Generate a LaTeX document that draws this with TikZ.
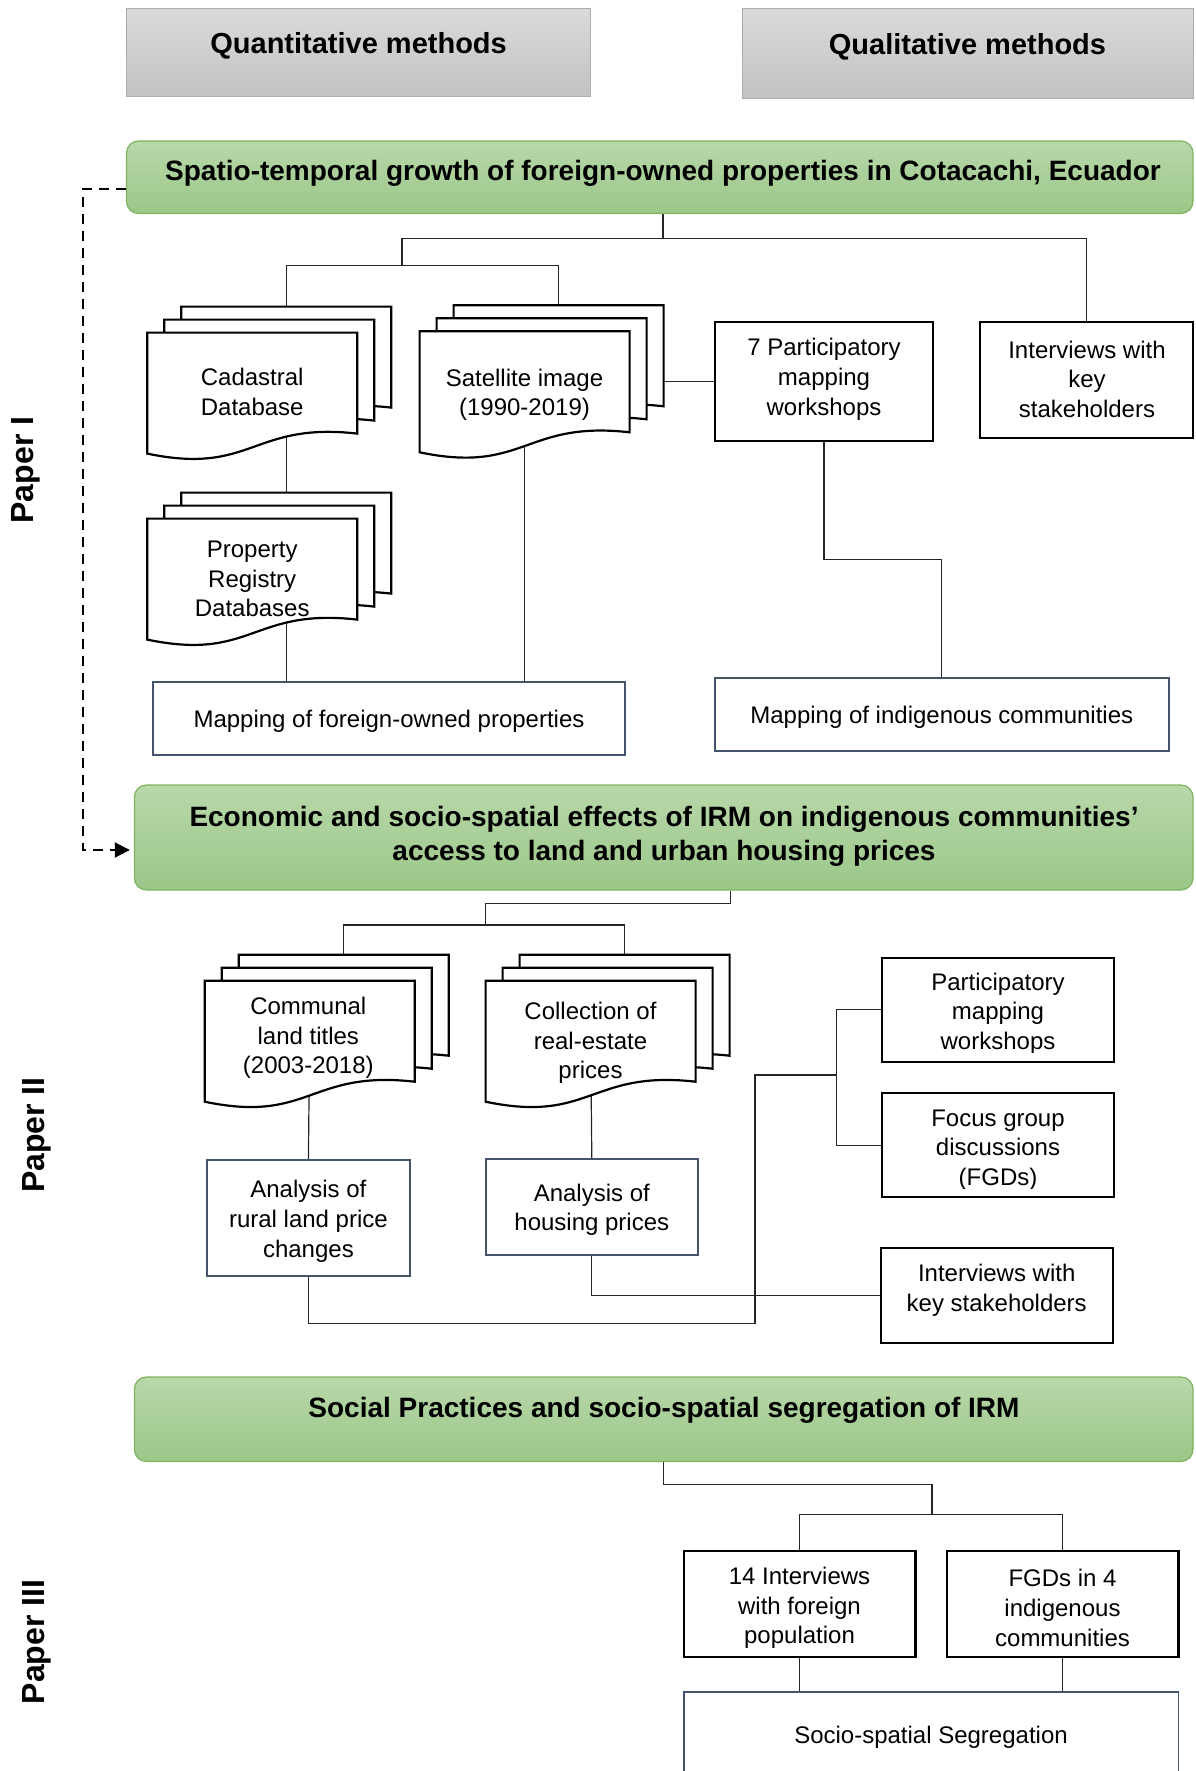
\documentclass[tikz,border=0pt]{standalone}
\usepackage{fontspec}
\setmainfont{Liberation Sans}
\usetikzlibrary{arrows.meta,fit,calc}
\pgfdeclarelayer{lines}
\pgfsetlayers{lines,main}

\definecolor{hdrtop}{HTML}{DADADA}
\definecolor{hdrbot}{HTML}{C2C2C2}
\definecolor{hdredge}{HTML}{ADADAD}
\definecolor{grntop}{HTML}{B8D8AA}
\definecolor{grnbot}{HTML}{9BC788}
\definecolor{grnedge}{HTML}{7FB35F}
\definecolor{slate}{HTML}{44546A}
\definecolor{wirecol}{HTML}{262626}

% a stack of three document sheets; #2,#3 = top-left corner of the front sheet
\newcommand\docstack[3]{%
  \foreach \k in {2,1,0}{%
    \draw[docsheet] ({#2+17*\k},{#3-13*\k}) -- ({#2+17*\k+210},{#3-13*\k})
      -- ({#2+17*\k+210},{#3-13*\k+101})
      .. controls ({#2+17*\k+105},{#3-13*\k+89}) and ({#2+17*\k+105},{#3-13*\k+143}) ..
      ({#2+17*\k},{#3-13*\k+121}) -- cycle;}
  \node[inner sep=0pt, minimum width=105pt, minimum height=50.5pt] (#1) at ({#2+105},{#3+50.5}) {};
  \coordinate (#1-t) at ({#2+34+105},{#3-26});
  \coordinate (#1-e) at ({#2+34+210},{#3-26});
}

\tikzset{
  every node/.style={font=\fontsize{12}{14.8}\selectfont},
  txt/.style={align=center, inner sep=0pt, yshift=-1.1pt},
  colt/.style={align=center, inner sep=0pt, yshift=-1.6pt, font=\fontsize{14.5}{17}\selectfont\bfseries},
  ttl/.style={align=center, inner sep=0pt, yshift=-1.6pt, font=\fontsize{14}{17}\selectfont\bfseries},
  hdr/.style={draw=hdredge, line width=0.5pt, top color=hdrtop, bottom color=hdrbot, inner sep=0pt},
  grn/.style={draw=grnedge, line width=0.6pt, rounded corners=6pt, top color=grntop, bottom color=grnbot, inner sep=0pt},
  blk/.style={draw=black, line width=1.1pt, fill=white, inner sep=0pt},
  res/.style={draw=slate, line width=0.9pt, fill=white, inner sep=0pt},
  docsheet/.style={draw=black, line width=1.1pt, fill=white, line join=miter},
  wire/.style={draw=wirecol, line width=0.6pt},
  lead/.style={draw=black, line width=1pt, dash pattern=on 5pt off 3.5pt, shorten >=2pt,
    -{Triangle[length=7.5pt,width=7.5pt]}},
  paper/.style={rotate=90, inner sep=0pt, font=\fontsize{16}{19}\selectfont\bfseries},
}

\begin{document}
\begin{tikzpicture}[x=0.5pt,y=-0.5pt]
\useasboundingbox (0,0) rectangle (1195,1771);
\clip (0,0) rectangle (1195,1771);

% column headers
\node[hdr, fit={(126.5,9) (590.7,97)}] (quant) {};
\node[colt] at (358.6,43) {Quantitative methods};
\node[hdr, fit={(742,9) (1193.5,99)}] (qual) {};
\node[colt] at (967.5,44) {Qualitative methods};

% paper labels
\node[paper] (p1) at (26,470) {Paper I};
\node[paper] (p2) at (37,1135) {Paper II};
\node[paper] (p3) at (37,1642) {Paper III};

% ---------------- Paper I ----------------
\node[grn, fit={(126.5,141) (1193,213.5)}] (g1) {};
\node[ttl] at (663,170.5) {Spatio-temporal growth of foreign-owned properties in Cotacachi, Ecuador};

\docstack{cad}{147.3}{332.6}
\node[txt] at (252.2,390) {Cadastral\\Database};
\docstack{pr}{147.3}{518.6}
\node[txt] at (252.2,577) {Property\\Registry\\Databases};
\docstack{sat}{419.6}{331.3}
\node[txt] at (524.5,392.7) {Satellite image\\(1990-2019)};

\node[blk, fit={(714.6,322) (933.2,440.8)}] (pm) {};
\node[txt] at (824,377) {7 Participatory\\mapping\\workshops};
\node[blk, fit={(980,322) (1193,438)}] (ik) {};
\node[txt] at (1087,377) {Interviews with\\key\\stakeholders};

\node[res, fit={(153,682) (625,755)}] (mf) {};
\node[txt] at (389,719) {Mapping of foreign-owned properties};
\node[res, fit={(714.6,677.7) (1169,750.7)}] (mi) {};
\node[txt] at (941.8,715) {Mapping of indigenous communities};

\coordinate (j1) at (663,238.3);
\coordinate (j1a) at (402,238.3);
\coordinate (j2) at (402,265.4);

% ---------------- Paper II ----------------
\node[grn, fit={(134.4,785) (1193,890)}] (g2) {};
\node[ttl] at (664,833.5) {Economic and socio-spatial effects of IRM on indigenous communities’\\access to land and urban housing prices};

\docstack{comm}{204.7}{980.7}
\node[txt] at (308.3,1035.6) {Communal\\land titles\\(2003-2018)};
\docstack{col}{485.6}{980.7}
\node[txt] at (590.5,1040.6) {Collection of\\real-estate\\prices};

\node[res, fit={(206.6,1160) (410.2,1275.7)}] (ar) {};
\node[txt] at (308.4,1219) {Analysis of\\rural land price\\changes};
\node[res, fit={(485.6,1159.3) (698,1255)}] (ah) {};
\node[txt] at (591.8,1207.5) {Analysis of\\housing prices};

\node[blk, fit={(882,957.8) (1114,1061.7)}] (pw) {};
\begin{scope}
  \clip (882,957.8) rectangle (1114,1052);
  \node[txt] at (998,1011.5) {Participatory\\mapping\\workshops};
\end{scope}
\node[blk, fit={(882,1093.3) (1114,1197.3)}] (fg) {};
\begin{scope}
  \clip (882,1093.3) rectangle (1114,1188);
  \node[txt] at (998,1148) {Focus group\\discussions\\(FGDs)};
\end{scope}
\node[blk, fit={(880.7,1248.3) (1112.7,1343.3)}] (ik2) {};
\node[txt] at (996.7,1288.3) {Interviews with\\key stakeholders};

\coordinate (j4) at (730.8,903.6);
\coordinate (j5) at (485.7,925);
\coordinate (j6) at (755,1323.3);
\coordinate (j7) at (836.7,1075);

% ---------------- Paper III ----------------
\node[grn, fit={(134.4,1377) (1193,1461.5)}] (g3) {};
\node[ttl] at (664,1407) {Social Practices and socio-spatial segregation of IRM};

\node[blk, fit={(683.7,1550.7) (915.4,1657.3)}] (i14) {};
\node[txt] at (799.5,1605.7) {14 Interviews\\with foreign\\population};
\node[blk, fit={(946.6,1550.7) (1178.4,1657.3)}] (fgd) {};
\node[txt] at (1062.5,1605.7) {FGDs in 4\\indigenous\\communities};
\node[res, fit={(683.7,1692.3) (1178.4,1800)}] (ss) {};
\node[txt] at (931,1735) {Socio-spatial Segregation};

\coordinate (j8) at (932,1484.3);
\coordinate (j9) at (932,1514.3);

% dashed lead from the first study to the second
\coordinate (da1) at (83,189);
\coordinate (da2) at (83,850);
\draw[lead] (g1.west |- da1) -- (da1) -- (da2) -- (g2.west |- da2);

% connectors, kept behind the boxes
\begin{pgfonlayer}{lines}
  \draw[wire] (g1.south -| j1) -- (j1);
  \draw[wire] (j1a) -| (ik.north);
  \draw[wire] (j1a) -- (j2);
  \draw[wire] (cad-t) |- (j2) -| (sat-t);
  \draw[wire] (cad-t |- cad.center) -- (pr-t);
  \draw[wire] (pr-t |- pr.center) -- (pr-t |- mf.north);
  \draw[wire] (sat.center) -- (sat.center |- mf.north);
  \draw[wire] (pm.west) -- (pm.west -| sat-e);
  \draw[wire] (pm.south) |- ($(pm.south)!.5!(mi.north)$) -| (mi.north);

  \draw[wire] (g2.south -| j4) -- (j4) -| (j5);
  \draw[wire] (comm-t) |- (j5) -| (col-t);
  \draw[wire] (comm.center) -- (ar.north);
  \draw[wire] (col.center) -- (ah.north);
  \draw[wire] (ah.south) |- (ik2.west);
  \draw[wire] (ar.south) |- (j6) |- (j7);
  \draw[wire] (pw.west) -| (j7) |- (fg.west);

  \draw[wire] (g3.south) |- (j8) -- (j9);
  \draw[wire] (i14.north) |- (j9) -| (fgd.north);
  \draw[wire] (i14.south) -- (i14.south |- ss.north);
  \draw[wire] (fgd.south) -- (fgd.south |- ss.north);
\end{pgfonlayer}
\end{tikzpicture}
\end{document}
